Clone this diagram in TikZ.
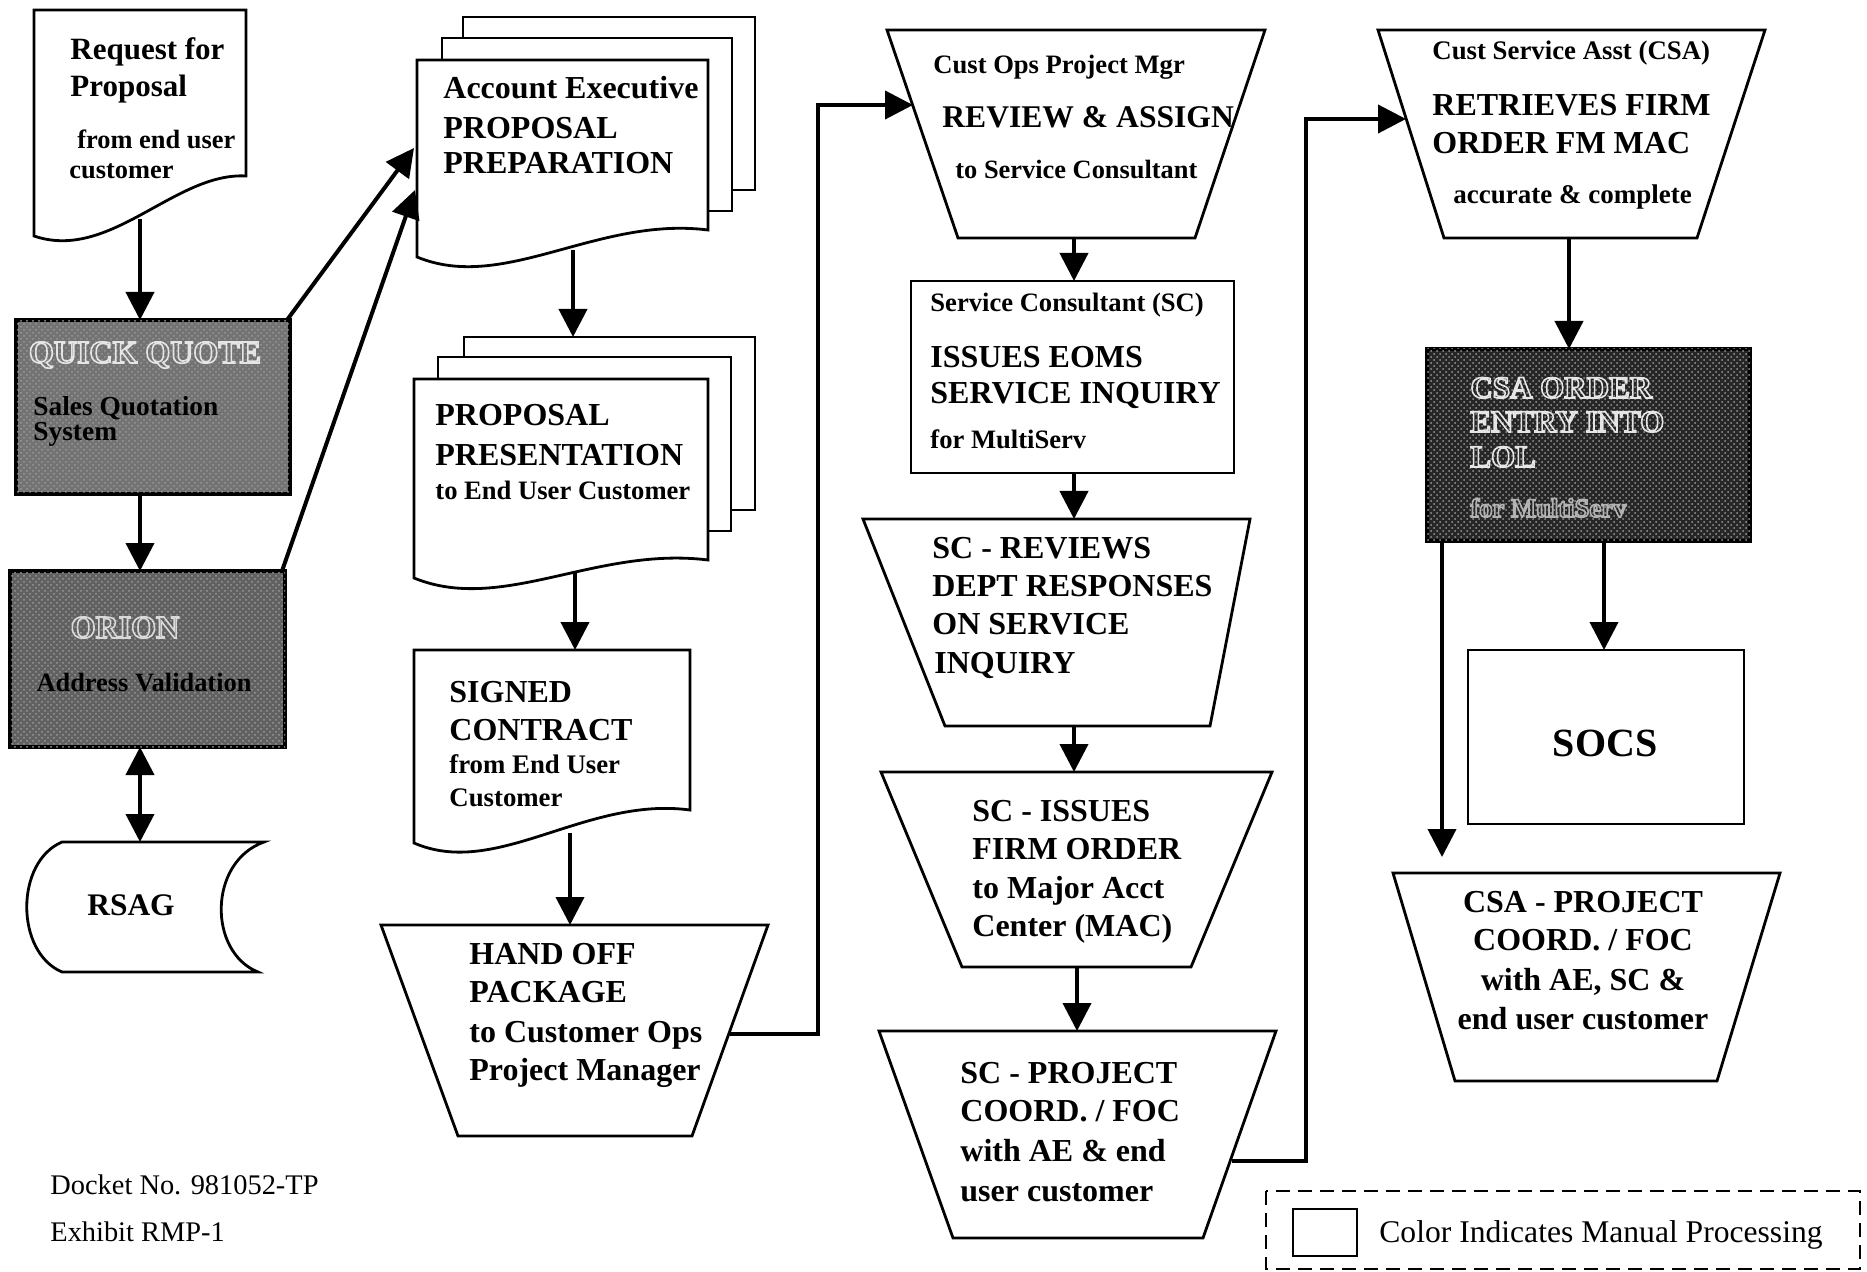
\documentclass[tikz,border=0pt]{standalone}
\usepackage{fontspec}
\setmainfont{Liberation Serif}
\usetikzlibrary{arrows.meta,patterns}
\newcommand\hollow[2]{\special{pdf:literal direct #1 G 1 Tr 0.8 w}#2\special{pdf:literal direct 0 Tr}}
\begin{document}
\begin{tikzpicture}[x=0.5pt,y=-0.5pt,
  shp/.style={draw=black,line width=1.4pt,fill=white,line join=miter},
  darkbox/.style={draw=black,line width=1.6pt,fill=#1,postaction={pattern=crosshatch dots,pattern color=white!60!black}},
  arr/.style={line width=2pt,-{Triangle[length=14pt,width=14pt]}},
  darr/.style={line width=2pt,{Triangle[length=14pt,width=14pt]}-{Triangle[length=14pt,width=14pt]}},
  tb/.style={anchor=base west,inner sep=0,font=\fontsize{16}{19}\selectfont\bfseries},
  ts/.style={anchor=base west,inner sep=0,font=\fontsize{13.3}{16}\selectfont\bfseries},
  tr/.style={anchor=base west,inner sep=0,font=\fontsize{14.2}{17}\selectfont},
  tc/.style={anchor=base,inner sep=0,font=\fontsize{16}{19}\selectfont\bfseries}]
\useasboundingbox (0,0) rectangle (1867,1272);

% ---------- left column ----------
\draw[shp] (34,10) -- (246,10) -- (246,176) .. controls (175,172) and (110,262) .. (34,236) -- cycle;
\node[tb,font=\fontsize{15.5}{18}\selectfont\bfseries] (rq1) at (70,60) {Request for};
\node[tb,font=\fontsize{15.5}{18}\selectfont\bfseries] (rq2) at (70,97) {Proposal};
\node[ts,font=\fontsize{13.2}{16}\selectfont\bfseries] (rq3) at (77,149) {from end user};
\node[ts,font=\fontsize{13.2}{16}\selectfont\bfseries] (rq4) at (69,179) {customer};
\coordinate (reqB) at (140,219);

\draw[darkbox=black!55] (16,320) rectangle (290,494);
\node[tc] (qq1) at (145,363) {\hollow{0.9}{QUICK QUOTE}};
\node[ts,font=\fontsize{13.7}{16}\selectfont\bfseries] (qq2) at (33,416) {Sales Quotation};
\node[ts,font=\fontsize{13.7}{16}\selectfont\bfseries] (qq3) at (33,441) {System};
\coordinate (qqT) at (140,320);
\coordinate (qqB) at (140,494);
\coordinate (qqTR) at (287,320);

\draw[darkbox=black!62] (10,571) rectangle (285,747);
\node[tc] (or1) at (125,638) {\hollow{0.85}{ORION}};
\node[tc,font=\fontsize{13.2}{16}\selectfont\bfseries] (or2) at (144,691) {Address Validation};
\coordinate (orT) at (140,571);
\coordinate (orB) at (140,747);
\coordinate (orTR) at (282,571);

\draw[shp] (62,842) -- (264,842) .. controls (208,862) and (208,952) .. (258,972) -- (62,972) .. controls (15,952) and (15,862) .. (62,842) -- cycle;
\node[font=\fontsize{15.7}{18}\selectfont\bfseries,inner sep=0] (rsag) at (131,905) {RSAG};
\coordinate (rsT) at (140,842);

\draw[arr] (reqB) -- (qqT);
\draw[arr] (qqB) -- (orT);
\draw[darr] (orB) -- (rsT);

% ---------- second column ----------
\draw[shp] (463,17) rectangle (755,190);
\draw[shp] (442,38) rectangle (732,211);
\draw[shp] (417,60) -- (708,60) -- (708,230) .. controls (597,216) and (504,293) .. (417,257) -- cycle;
\node[tb] (ae1) at (443,99) {Account Executive};
\node[tb] (ae2) at (443,139) {PROPOSAL};
\node[tb] (ae3) at (443,174) {PREPARATION};
\coordinate (aeL1) at (414,148);
\coordinate (aeL2) at (415,190);
\coordinate (aeB) at (573,250);
\draw[arr] (qqTR) -- (aeL1);
\draw[arr] (orTR) -- (aeL2);

\draw[shp] (464,337) rectangle (755,510);
\draw[shp] (438,357) rectangle (731,531);
\draw[shp] (414,379) -- (708,379) -- (708,560) .. controls (596,546) and (502,614) .. (414,578) -- cycle;
\node[tb] (pp1) at (435,426) {PROPOSAL};
\node[tb] (pp2) at (435,466) {PRESENTATION};
\node[ts] (pp3) at (435,500) {to End User Customer};
\coordinate (prT) at (573,337);
\coordinate (prB) at (575,572);
\draw[arr] (aeB) -- (prT);

\draw[shp] (414,650) -- (690,650) -- (690,810) .. controls (585,796) and (497,879) .. (414,843) -- cycle;
\node[tb] (sg1) at (449,702) {SIGNED};
\node[tb] (sg2) at (449,740) {CONTRACT};
\node[ts,font=\fontsize{13.4}{16}\selectfont\bfseries] (sg3) at (449,773) {from End User};
\node[ts,font=\fontsize{13.4}{16}\selectfont\bfseries] (sg4) at (449,806) {Customer};
\coordinate (sgT) at (575,650);
\coordinate (sgB) at (570,833);
\draw[arr] (prB) -- (sgT);

\draw[shp] (381,925) -- (768,925) -- (692,1136) -- (458,1136) -- cycle;
\node[tb] (ho1) at (469,964) {HAND OFF};
\node[tb] (ho2) at (469,1002) {PACKAGE};
\node[tb] (ho3) at (469,1042) {to Customer Ops};
\node[tb] (ho4) at (469,1080) {Project Manager};
\coordinate (hoT) at (570,925);
\coordinate (hoR) at (730,1034);
\draw[arr] (sgB) -- (hoT);

% ---------- third column ----------
\draw[shp] (887,30) -- (1265,30) -- (1195,238) -- (958,238) -- cycle;
\node[ts] (co1) at (933,74) {Cust Ops Project Mgr};
\node[tb,font=\fontsize{15.8}{19}\selectfont\bfseries] (co2) at (942,128) {REVIEW \& ASSIGN};
\node[ts,font=\fontsize{13.2}{16}\selectfont\bfseries] (co3) at (955,179) {to Service Consultant};
\coordinate (coL) at (913,105);
\coordinate (coB) at (1074,238);
\coordinate (j1) at (818,105);
\draw[arr] (hoR) -| (j1) -- (coL);

\draw[shp] (911,281) rectangle (1234,473);
\node[ts] (sc1) at (930,312) {Service Consultant (SC)};
\node[tb] (sc2) at (930,368) {ISSUES EOMS};
\node[tb] (sc3) at (930,404) {SERVICE INQUIRY};
\node[ts] (sc4) at (930,449) {for MultiServ};
\coordinate (scT) at (1074,281);
\coordinate (scB) at (1074,473);
\draw[arr] (coB) -- (scT);

\draw[shp] (863,519) -- (1250,519) -- (1210,726) -- (945,726) -- cycle;
\node[tb] (rv1) at (932,558) {SC - REVIEWS};
\node[tb] (rv2) at (932,596) {DEPT RESPONSES};
\node[tb] (rv3) at (932,634) {ON SERVICE};
\node[tb] (rv4) at (934,673) {INQUIRY};
\coordinate (rvT) at (1074,519);
\coordinate (rvB) at (1074,726);
\draw[arr] (scB) -- (rvT);

\draw[shp] (881,772) -- (1272,772) -- (1191,967) -- (962,967) -- cycle;
\node[tb] (is1) at (972,821) {SC - ISSUES};
\node[tb] (is2) at (972,859) {FIRM ORDER};
\node[tb] (is3) at (972,898) {to Major Acct};
\node[tb] (is4) at (972,936) {Center (MAC)};
\coordinate (isT) at (1074,772);
\coordinate (isB) at (1077,967);
\draw[arr] (rvB) -- (isT);

\draw[shp] (879,1031) -- (1276,1031) -- (1203,1238) -- (953,1238) -- cycle;
\node[tb] (pj1) at (960,1083) {SC - PROJECT};
\node[tb] (pj2) at (960,1121) {COORD. / FOC};
\node[tb] (pj3) at (960,1161) {with AE \& end};
\node[tb] (pj4) at (960,1201) {user customer};
\coordinate (pjT) at (1077,1031);
\coordinate (pjR) at (1232,1161);
\draw[arr] (isB) -- (pjT);

% ---------- fourth column ----------
\draw[shp] (1378,30) -- (1765,30) -- (1697,238) -- (1444,238) -- cycle;
\node[ts,font=\fontsize{13.4}{16}\selectfont\bfseries] (cs1) at (1432,60) {Cust Service Asst (CSA)};
\node[tb] (cs2) at (1432,116) {RETRIEVES FIRM};
\node[tb] (cs3) at (1432,154) {ORDER FM MAC};
\node[ts,font=\fontsize{13.5}{16}\selectfont\bfseries] (cs4) at (1453,204) {accurate \& complete};
\coordinate (csL) at (1406,119);
\coordinate (csB) at (1569,238);
\coordinate (j2) at (1306,119);
\draw[arr] (pjR) -| (j2) -- (csL);

\draw[darkbox=black!85] (1427,349) rectangle (1750,541);
\node[tb,font=\fontsize{15.5}{18}\selectfont\bfseries] (ce1) at (1470,398) {\hollow{0.9}{CSA ORDER}};
\node[tb,font=\fontsize{15.5}{18}\selectfont\bfseries] (ce2) at (1470,432) {\hollow{0.9}{ENTRY INTO}};
\node[tb,font=\fontsize{15.5}{18}\selectfont\bfseries] (ce3) at (1470,467) {\hollow{0.9}{LOL}};
\node[ts] (ce4) at (1470,517) {\hollow{0.7}{for MultiServ}};
\coordinate (ceT) at (1569,349);
\coordinate (ceBL) at (1442,541);
\coordinate (ceBR) at (1604,541);
\draw[arr] (csB) -- (ceT);

\draw[shp] (1468,650) rectangle (1744,824);
\node[font=\fontsize{20}{24}\selectfont\bfseries,inner sep=0] (socs) at (1605,743) {SOCS};
\coordinate (soT) at (1604,650);
\draw[arr] (ceBR) -- (soT);

\draw[shp] (1393,873) -- (1780,873) -- (1717,1081) -- (1455,1081) -- cycle;
\node[tc] (cp1) at (1583,912) {CSA - PROJECT};
\node[tc] (cp2) at (1583,950) {COORD. / FOC};
\node[tc] (cp3) at (1583,990) {with AE, SC \&};
\node[tc] (cp4) at (1583,1029) {end user customer};
\coordinate (cpT) at (1442,857);
\draw[arr] (ceBL) -- (cpT);

% ---------- footer ----------
\node[tr] (dk1) at (50,1194) {Docket No. 981052-TP};
\node[tr] (dk2) at (50,1241) {Exhibit RMP-1};

\draw[line width=1pt,dash pattern=on 7pt off 4pt] (1266,1191) rectangle (1860,1269);
\draw[line width=1pt] (1293,1209) rectangle (1357,1256);
\node[anchor=base west,inner sep=0,font=\fontsize{15.8}{19}\selectfont] (lg) at (1379,1242) {Color Indicates Manual Processing};
\end{tikzpicture}
\end{document}
